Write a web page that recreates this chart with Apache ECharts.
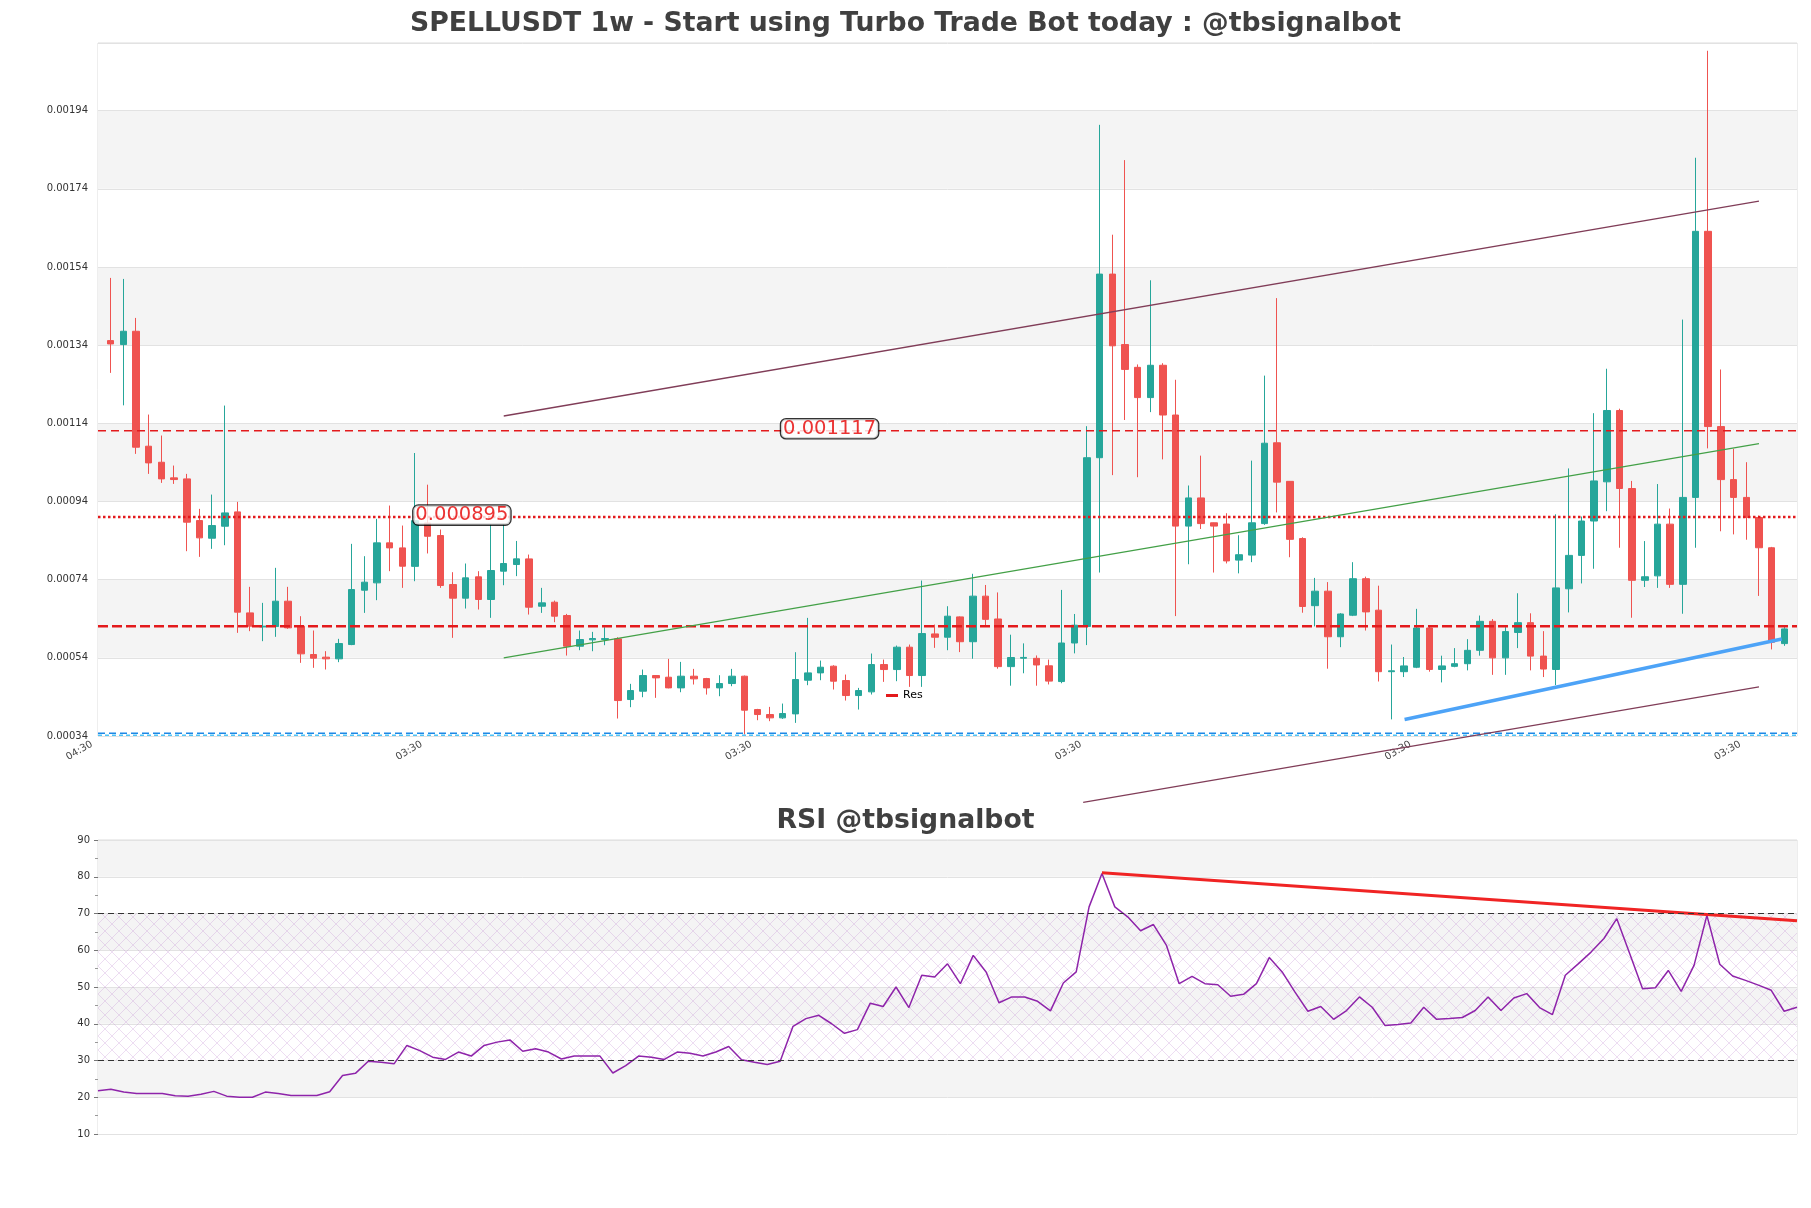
<!DOCTYPE html>
<html>
<head>
<meta charset="utf-8">
<title>SPELLUSDT 1w</title>
<script src="https://cdn.jsdelivr.net/npm/echarts@6/dist/echarts.min.js"></script>
<style>
  html, body { margin: 0; padding: 0; background: #fff; }
  #chart { width: 1811px; height: 1208px; }
</style>
</head>
<body>
<div id="chart"></div>
<script>
// Weekly SPELLUSDT candles (price) with an RSI panel underneath.
const FONT = 'DejaVu Sans'
const UP = '#26a69a'
const DOWN = '#ef5350'

const open = [0.0013516,0.0013414,0.0013755,0.0010814,0.0010404,0.0010004,0.0009978,0.0008912,0.000846,0.0008767,
  0.0009134,0.000655,0.000619,0.00062,0.0006849,0.000621,0.0005485,0.0005417,0.0005374,0.000574,
  0.000713,0.0007318,0.0008341,0.0008213,0.000774,0.000885,0.0008529,0.0007275,0.0006926,0.0007472,
  0.0006892,0.0007617,0.0007787,0.0007931,0.000672,0.0006823,0.0006482,0.0005697,0.000586,0.0005868,
  0.0005885,0.0004333,0.0004546,0.0004947,0.0004904,0.0004631,0.000493,0.000487,0.0004631,0.0004742,
  0.000493,0.0004077,0.0003949,0.0003864,0.0003966,0.0004827,0.0005015,0.0005186,0.0004819,0.0004435,
  0.0004529,0.0005228,0.00051,0.0005672,0.0004947,0.0006012,0.0005927,0.0006447,0.0005812,0.0006978,
  0.0006394,0.0005175,0.000539,0.0005387,0.0005196,0.0004793,0.0005779,0.0006204,0.001052,0.0015218,
  0.0013415,0.0012832,0.0012058,0.0012885,0.0011612,0.000877,0.0009491,0.0008855,0.0008823,0.00079,
  0.0008028,0.0008834,0.0010902,0.0009915,0.0008452,0.0006734,0.0007105,0.0005939,0.000649,0.0007424,
  0.0006619,0.0005045,0.0005045,0.0005159,0.0006163,0.0005102,0.0005182,0.000525,0.0005592,0.0006334,
  0.0005399,0.0006049,0.00063,0.0005444,0.0005102,0.0007166,0.0008021,0.00089,0.0009903,0.0011728,
  0.0009732,0.0007383,0.0007497,0.000882,0.000728,0.0009504,0.0016312,0.0011317,0.000996,0.0009504,
  0.0008991,0.0008216,0.0005764]
const close = [0.0013431,0.0013755,0.0010788,0.0010387,0.0009978,0.0009961,0.000887,0.0008469,0.0008784,0.0009108,
  0.0006568,0.000621,0.000621,0.0006849,0.0006167,0.0005502,0.0005391,0.0005374,0.0005766,0.0007147,
  0.0007335,0.0008341,0.0008213,0.0007744,0.000891,0.000851,0.000725,0.0006926,0.0007446,0.0006892,
  0.0007634,0.0007813,0.0007932,0.0006695,0.0006806,0.0006465,0.0005697,0.0005868,0.0005894,0.0005894,
  0.0004307,0.0004563,0.0004947,0.0004887,0.0004631,0.000493,0.0004862,0.0004631,0.0004742,0.000493,
  0.000406,0.0003949,0.0003864,0.0003975,0.0004845,0.0005015,0.000516,0.0004802,0.0004435,0.0004563,
  0.0005228,0.00051,0.0005672,0.0004947,0.0006021,0.0005927,0.0006465,0.0005812,0.0006978,0.0006384,
  0.0005175,0.0005408,0.000541,0.0005217,0.0004804,0.0005779,0.0006235,0.001052,0.0015218,0.0013383,
  0.0012779,0.0012058,0.0012885,0.0011612,0.000877,0.0009491,0.0008834,0.000877,0.0007879,0.0008038,
  0.0008855,0.0010891,0.0009895,0.0008431,0.0006713,0.0007105,0.0005939,0.0006522,0.0007424,0.0006575,
  0.0005045,0.0005068,0.0005193,0.0006163,0.0005102,0.0005193,0.000525,0.0005592,0.0006334,0.0005399,
  0.0006071,0.00063,0.0005444,0.0005113,0.0007189,0.0008021,0.00089,0.0009926,0.0011728,0.0009732,
  0.0007383,0.0007474,0.000882,0.000728,0.0009504,0.0016312,0.0011317,0.000996,0.0009504,0.0008991,
  0.0008216,0.0005798,0.000614]
const low = [0.001269,0.001186,0.0010618,0.0010106,0.0009876,0.000985,0.0008128,0.0007983,0.0008188,0.0008281,
  0.0006039,0.0006082,0.0005826,0.0005937,0.0006142,0.0005272,0.0005144,0.0005101,0.0005289,0.0005724,
  0.000655,0.0006875,0.0007617,0.000719,0.000736,0.000807,0.000719,0.0005911,0.0006661,0.0006636,
  0.0006423,0.0007258,0.000749,0.0006507,0.000655,0.0006311,0.0005458,0.0005595,0.0005569,0.0005723,
  0.0003847,0.0004137,0.0004392,0.0004376,0.000462,0.000452,0.0004717,0.000446,0.0004418,0.0004674,
  0.0003437,0.0003804,0.0003779,0.0003838,0.0003736,0.00047,0.0004827,0.0004589,0.0004307,0.0004077,
  0.0004461,0.0004785,0.0004802,0.0004657,0.0004657,0.0005655,0.0005595,0.0005546,0.0005377,0.0006204,
  0.0005122,0.0004687,0.0005005,0.0004687,0.0004719,0.000475,0.0005514,0.0005726,0.0007582,0.0010074,
  0.0011485,0.0010021,0.0011686,0.0010477,0.0006468,0.0007794,0.0008696,0.0007582,0.0007815,0.0007561,
  0.0007848,0.0008802,0.000912,0.0007974,0.0006554,0.0006204,0.0005122,0.0005673,0.0006468,0.0006098,
  0.0004794,0.0003825,0.0004908,0.0005136,0.0005045,0.0004771,0.0005159,0.0005079,0.0005455,0.0004965,
  0.0004965,0.0005649,0.0005079,0.0004908,0.0004703,0.0006562,0.0007303,0.0007679,0.0009151,0.0008216,
  0.0006425,0.0007212,0.0007189,0.0007189,0.0006528,0.0008216,0.0010759,0.0008638,0.0008558,0.0008421,
  0.0006984,0.0005615,0.0005707]
const high = [0.001512,0.0015094,0.0014096,0.0011624,0.0011087,0.0010319,0.0010106,0.0009211,0.0009577,0.0011854,
  0.000939,0.0007216,0.0006806,0.0007702,0.0007216,0.0006465,0.0006099,0.000557,0.0005886,0.0008316,
  0.0008,0.0008955,0.0009296,0.0008784,0.001064,0.000983,0.0008682,0.0007591,0.0007813,0.0007617,
  0.000881,0.000881,0.000839,0.0008042,0.000719,0.0006865,0.0006524,0.0006098,0.0006064,0.0006183,
  0.0005927,0.0004734,0.00051,0.000496,0.0005373,0.0005296,0.0005117,0.0004887,0.0004955,0.0005117,
  0.0004947,0.0004094,0.0004145,0.000423,0.0005544,0.0006422,0.000533,0.0005211,0.0004972,0.0004631,
  0.000551,0.0005356,0.0005714,0.000574,0.0007377,0.0006251,0.000672,0.000646,0.000755,0.0007264,
  0.0007073,0.0005992,0.000577,0.0005461,0.0005355,0.0007137,0.0006522,0.0011326,0.0019036,0.0016225,
  0.0018134,0.0012906,0.0015059,0.0012938,0.0012514,0.0009809,0.0010573,0.000886,0.0009099,0.0008537,
  0.0010445,0.001262,0.0014603,0.000992,0.0008484,0.0007445,0.0007338,0.0006543,0.0007847,0.0007477,
  0.0007246,0.000574,0.0005421,0.0006653,0.0006186,0.0005455,0.0005649,0.0005878,0.0006482,0.0006391,
  0.0006186,0.0007052,0.0006539,0.0006083,0.0009071,0.0010246,0.0009014,0.0011659,0.0012796,0.0011774,
  0.0009926,0.0008387,0.0009846,0.0009219,0.0014054,0.0018194,0.0020931,0.0012777,0.0010747,0.0010405,
  0.0009037,0.0008238,0.0006186]

const rsi = [21.8,22.2,21.4,21.0,21.0,21.0,20.4,20.3,20.8,21.6,
  20.3,20.0,20.0,21.4,21.0,20.5,20.5,20.5,21.5,25.9,
  26.5,29.8,29.5,29.1,34.1,32.7,30.9,30.3,32.3,31.2,
  34.1,35.0,35.6,32.5,33.2,32.3,30.4,31.2,31.2,31.2,
  26.6,28.6,31.2,30.9,30.3,32.3,32.0,31.2,32.3,33.8,
  30.2,29.5,28.9,29.8,39.3,41.4,42.3,40.0,37.4,38.4,
  45.6,44.7,50.0,44.4,53.2,52.7,56.3,50.9,58.6,54.1,
  45.7,47.3,47.3,46.1,43.5,51.1,54.1,71.8,80.9,71.8,
  69.1,65.3,67.0,61.4,50.9,52.9,50.9,50.6,47.5,48.0,
  50.9,58.0,54.1,48.6,43.4,44.7,41.2,43.6,47.3,44.5,
  39.5,39.8,40.2,44.5,41.2,41.4,41.7,43.6,47.3,43.6,
  47.0,48.2,44.4,42.5,53.2,56.3,59.5,63.2,68.6,59.1,
  49.5,49.8,54.5,48.8,55.9,69.5,56.2,53.0,51.8,50.5,
  49.1,43.4,44.5]

// x tick labels, by slot (slot 0 is the empty slot left of the first candle)
const xTickSlot = [0, 26, 52, 78, 104, 130]
const xTickText = ['04:30', '03:30', '03:30', '03:30', '03:30', '03:30']

// horizontal levels and their tags
const levels = [0.001121, 0.0009, 0.000621]
const levelTags = ['0.001117', '0.000895']
const supportLevels = [0.000347, 0.000342]

// trend lines: [candle index, price]
const channelTop = [[31, 0.0011587], [130, 0.0017082]]
const channelBottom = [[76.7, 0.00017], [130, 0.0004655]]
const channelMid = [[31, 0.00054], [130, 0.001088]]
const risingSupport = [[102.05, 0.000382], [131.8, 0.000588]]
const rsiTrend = [[78, 81.1], [132, 68.0]]

const n = open.length
const slots = Array.from({ length: n + 2 }, (_, k) => {
  const j = xTickSlot.indexOf(k)
  return j >= 0 ? xTickText[j] : ''
})
const candles = open.map((o, i) => [i + 1, o, close[i], low[i], high[i]])
const rsiCats = rsi.map((_, i) => String(i))

// light purple lattice for the 30-70 RSI zone
const hatch = document.createElement('canvas')
hatch.width = 14
hatch.height = 14
const hc = hatch.getContext('2d')
hc.strokeStyle = 'rgba(185,120,205,0.32)'
hc.lineWidth = 0.8
hc.beginPath()
hc.moveTo(0, 0); hc.lineTo(14, 14)
hc.moveTo(14, 0); hc.lineTo(0, 14)
hc.stroke()

function hline(value, lineStyle, name) {
  return {
    type: 'line', name, xAxisIndex: 1, yAxisIndex: 0, silent: true, symbol: 'none', z: 3,
    data: [[-1, value], [n, value]],
    lineStyle, itemStyle: { color: lineStyle.color },
  }
}
function segment(points, lineStyle, extra) {
  return Object.assign({
    type: 'line', xAxisIndex: 1, yAxisIndex: 0, silent: true, symbol: 'none', z: 4,
    data: points, lineStyle,
  }, extra || {})
}

const titleStyle = { fontFamily: FONT, fontSize: 26.7, fontWeight: 'bold', color: '#404040' }

const chart = echarts.init(document.getElementById('chart'))
chart.setOption({
  animation: false,
  backgroundColor: '#fff',
  textStyle: { fontFamily: FONT },
  title: [
    { text: 'SPELLUSDT 1w - Start using Turbo Trade Bot today : @tbsignalbot', left: 'center', top: 6, textStyle: titleStyle },
    { text: 'RSI @tbsignalbot', left: 'center', top: 803, textStyle: titleStyle },
  ],
  legend: {
    data: [{ name: 'Res', icon: 'rect' }], left: 881, top: 685, itemWidth: 12, itemHeight: 3,
    textStyle: { color: '#000', fontSize: 11, fontFamily: FONT }, selectedMode: false,
  },
  grid: [
    { left: 98, right: 14, top: 43, height: 693, show: true, borderColor: '#dcdcdc', borderWidth: 1 },
    { left: 98, right: 14, top: 840, height: 294, show: true, borderColor: '#dcdcdc', borderWidth: 1 },
  ],
  xAxis: [
    { type: 'category', gridIndex: 0, data: slots, boundaryGap: false,
      axisLine: { show: false }, axisTick: { show: false }, splitLine: { show: false },
      axisLabel: { interval: 0, rotate: 30, color: '#444', fontSize: 10, fontFamily: FONT, margin: 4, padding: [0, 7, 0, 0] } },
    { type: 'value', gridIndex: 0, min: -1, max: n, show: false },
    { type: 'category', gridIndex: 1, data: rsiCats, boundaryGap: false,
      axisLine: { show: false }, axisTick: { show: false }, axisLabel: { show: false }, splitLine: { show: false } },
    { type: 'value', gridIndex: 1, min: 0, max: n - 1, show: false },
  ],
  yAxis: [
    { type: 'value', gridIndex: 0, min: 0.00034, max: 0.002113, interval: 0.0002,
      axisLine: { show: false }, axisTick: { show: false },
      axisLabel: { formatter: v => v.toFixed(5), color: '#333', fontSize: 10, fontFamily: FONT, margin: 10, showMaxLabel: false },
      splitLine: { lineStyle: { color: '#e2e2e2' } },
      splitArea: { show: true, areaStyle: { color: ['#ffffff', '#f4f4f4'] } } },
    { type: 'value', gridIndex: 1, min: 10, max: 90, interval: 10,
      axisLine: { show: false },
      axisTick: { show: true, length: 4, lineStyle: { color: '#777' } },
      minorTick: { show: true, splitNumber: 2, length: 3, lineStyle: { color: '#999' } },
      axisLabel: { color: '#333', fontSize: 10, fontFamily: FONT, margin: 8 },
      splitLine: { lineStyle: { color: '#e2e2e2' } },
      splitArea: { show: true, areaStyle: { color: ['#ffffff', '#f4f4f4'] } } },
  ],
  series: [
    { type: 'candlestick', xAxisIndex: 0, yAxisIndex: 0, data: candles, encode: { x: 0, y: [1, 2, 3, 4] },
      barWidth: 7, silent: true, z: 2,
      itemStyle: { color: UP, color0: DOWN, borderColor: UP, borderColor0: DOWN, borderWidth: 1 } },
    hline(levels[0], { color: '#e31a1c', width: 1.3, type: [8, 5] }),
    hline(levels[1], { color: '#e31a1c', width: 2.5, type: 'dotted' }),
    hline(levels[2], { color: '#e31a1c', width: 2.5, type: [10, 4] }, 'Res'),
    hline(supportLevels[0], { color: '#1e88e5', width: 1.5, type: [7, 4] }),
    hline(supportLevels[1], { color: '#4fc3f7', width: 1.5, type: [4, 3] }),
    segment(channelTop, { color: '#803d58', width: 1.3 }),
    segment(channelBottom, { color: '#803d58', width: 1.3 }, { clip: false }),
    segment(channelMid, { color: '#43a047', width: 1.2 }),
    segment(risingSupport, { color: '#4da3f7', width: 3.5 }),
    { type: 'scatter', xAxisIndex: 1, yAxisIndex: 0, silent: true, symbolSize: 0, z: 6,
      data: [[56.7, levels[0]], [27.7, levels[1]]],
      label: { show: true, position: 'inside', offset: [0, -2], formatter: p => levelTags[p.dataIndex],
        color: '#e60000', fontSize: 19.5, fontFamily: FONT, lineHeight: 19,
        backgroundColor: '#fff', borderColor: '#000', borderWidth: 1.3, borderRadius: 5, padding: [0, 2] } },
    { type: 'line', xAxisIndex: 2, yAxisIndex: 1, data: rsi, symbol: 'none', silent: true, z: 3,
      lineStyle: { color: '#8e24aa', width: 1.5 },
      markArea: { silent: true, itemStyle: { color: { image: hatch, repeat: 'repeat' } },
        data: [[{ yAxis: 30 }, { yAxis: 70 }]] },
      markLine: { silent: true, symbol: 'none', label: { show: false },
        lineStyle: { color: '#333', width: 1, type: [6, 4] },
        data: [{ yAxis: 70 }, { yAxis: 30 }] } },
    { type: 'line', xAxisIndex: 3, yAxisIndex: 1, data: rsiTrend, symbol: 'none', silent: true, z: 4,
      lineStyle: { color: '#f02424', width: 3 } },
  ],
})
</script>
</body>
</html>
